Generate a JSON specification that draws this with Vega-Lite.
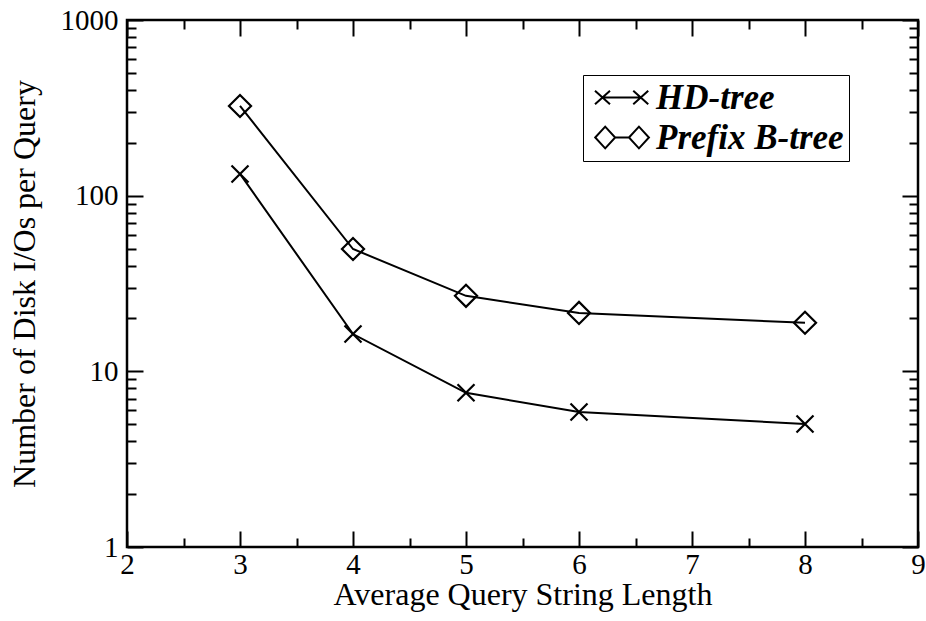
{
  "$schema": "https://vega.github.io/schema/vega-lite/v6.json",
  "width": 791,
  "height": 527,
  "autosize": {"type": "none"},
  "padding": {"left": 127, "top": 20, "right": 8, "bottom": 74},
  "background": "white",
  "config": {
    "view": {"stroke": "black", "strokeWidth": 2.5},
    "axis": {
      "grid": false,
      "domain": false,
      "tickColor": "black",
      "tickWidth": 2,
      "labelFont": "Liberation Serif",
      "labelFontSize": 29,
      "labelColor": "black",
      "titleFont": "Liberation Serif",
      "titleFontSize": 32,
      "titleFontWeight": "normal",
      "titleColor": "black",
      "labelOverlap": false,
      "labelBound": false,
      "labelFlush": false
    }
  },
  "data": {
    "values": [
      {"len": 3, "io": 133, "series": "HD-tree"},
      {"len": 4, "io": 16.3, "series": "HD-tree"},
      {"len": 5, "io": 7.55, "series": "HD-tree"},
      {"len": 6, "io": 5.87, "series": "HD-tree"},
      {"len": 8, "io": 5.02, "series": "HD-tree"},
      {"len": 3, "io": 324, "series": "Prefix B-tree"},
      {"len": 4, "io": 49.7, "series": "Prefix B-tree"},
      {"len": 5, "io": 26.9, "series": "Prefix B-tree"},
      {"len": 6, "io": 21.5, "series": "Prefix B-tree"},
      {"len": 8, "io": 18.9, "series": "Prefix B-tree"}
    ]
  },
  "layer": [
    {
      "mark": {"type": "line", "color": "black", "strokeWidth": 2},
      "encoding": {
        "x": {
          "field": "len", "type": "quantitative",
          "scale": {"domain": [2, 9], "nice": false, "zero": false},
          "axis": {
            "orient": "bottom",
            "title": "Average Query String Length",
            "values": [2, 3, 4, 5, 6, 7, 8, 9],
            "format": "d",
            "ticks": false,
            "labelPadding": 3,
            "titlePadding": 0
          }
        },
        "y": {
          "field": "io", "type": "quantitative",
          "scale": {"type": "log", "domain": [1, 1000], "nice": false},
          "axis": {
            "orient": "left",
            "title": "Number of Disk I/Os per Query",
            "values": [1, 10, 100, 1000],
            "format": "d",
            "ticks": false,
            "labelPadding": 9,
            "titlePadding": 19
          }
        },
        "detail": {"field": "series", "type": "nominal"}
      }
    },
    {
      "mark": {"type": "point", "filled": false, "stroke": "black", "strokeWidth": 2.2, "size": 289, "opacity": 1},
      "encoding": {
        "x": {
          "field": "len", "type": "quantitative",
          "axis": {"orient": "bottom", "title": null, "labels": false, "values": [2, 3, 4, 5, 6, 7, 8, 9], "tickSize": 16, "offset": -16}
        },
        "y": {
          "field": "io", "type": "quantitative",
          "axis": {"orient": "left", "title": null, "labels": false, "values": [1, 10, 100, 1000], "tickSize": 16, "offset": -16}
        },
        "shape": {
          "field": "series", "type": "nominal",
          "scale": {
            "domain": ["HD-tree", "Prefix B-tree"],
            "range": ["M-1,-1L1,1M-1,1L1,-1", "M-1.3,0L0,-1.3L1.3,0L0,1.3Z"]
          },
          "legend": null
        }
      }
    },
    {
      "mark": {"type": "point", "filled": false, "stroke": "black", "strokeWidth": 2, "size": 225, "opacity": 0},
      "encoding": {
        "x": {
          "field": "len", "type": "quantitative",
          "axis": {"orient": "bottom", "title": null, "labels": false, "values": [2.5, 3.5, 4.5, 5.5, 6.5, 7.5, 8.5], "tickSize": 9, "offset": -9}
        },
        "y": {
          "field": "io", "type": "quantitative",
          "axis": {"orient": "left", "title": null, "labels": false, "values": [2,3,4,5,6,7,8,9,20,30,40,50,60,70,80,90,200,300,400,500,600,700,800,900], "tickSize": 9, "offset": -9}
        },
        "shape": {
          "field": "series", "type": "nominal",
          "scale": {
            "domain": ["HD-tree", "Prefix B-tree"],
            "range": [
              "M-1.4,-0.9L0.6,0.9M-1.4,0.9L0.6,-0.9M-0.4,0L4.7,0M3.7,-0.9L5.7,0.9M3.7,0.9L5.7,-0.9",
              "M-1.37,0L-0.04,-1.45L1.29,0L-0.04,1.45ZM1.29,0L3.13,0M3.13,0L4.46,-1.45L5.79,0L4.46,1.45Z"
            ]
          },
          "legend": {
            "title": null,
            "orient": "none",
            "legendX": 456,
            "legendY": 55,
            "padding": 5,
            "strokeColor": "black",
            "labelFont": "Liberation Serif",
            "labelFontStyle": "italic",
            "labelFontWeight": "bold",
            "labelFontSize": 35,
            "labelColor": "black",
            "labelOffset": 33,
            "labelLimit": 400,
            "symbolSize": 225,
            "symbolOpacity": 1,
            "symbolStrokeWidth": 2,
            "symbolStrokeColor": "black",
            "symbolFillColor": "transparent",
            "rowPadding": 4
          }
        }
      }
    },
    {
      "mark": {"type": "line", "opacity": 0},
      "encoding": {
        "x": {
          "field": "len", "type": "quantitative",
          "axis": {"orient": "top", "title": null, "labels": false, "values": [2, 3, 4, 5, 6, 7, 8, 9], "tickSize": 16, "offset": -16}
        },
        "y": {
          "field": "io", "type": "quantitative",
          "axis": {"orient": "right", "title": null, "labels": false, "values": [1, 10, 100, 1000], "tickSize": 16, "offset": -16}
        },
        "detail": {"field": "series", "type": "nominal"}
      }
    },
    {
      "mark": {"type": "line", "opacity": 0},
      "encoding": {
        "x": {
          "field": "len", "type": "quantitative",
          "axis": {"orient": "top", "title": null, "labels": false, "values": [2.5, 3.5, 4.5, 5.5, 6.5, 7.5, 8.5], "tickSize": 9, "offset": -9}
        },
        "y": {
          "field": "io", "type": "quantitative",
          "axis": {"orient": "right", "title": null, "labels": false, "values": [2,3,4,5,6,7,8,9,20,30,40,50,60,70,80,90,200,300,400,500,600,700,800,900], "tickSize": 9, "offset": -9}
        },
        "detail": {"field": "series", "type": "nominal"}
      }
    }
  ],
  "resolve": {"axis": {"x": "independent", "y": "independent"}, "scale": {"shape": "independent"}}
}
